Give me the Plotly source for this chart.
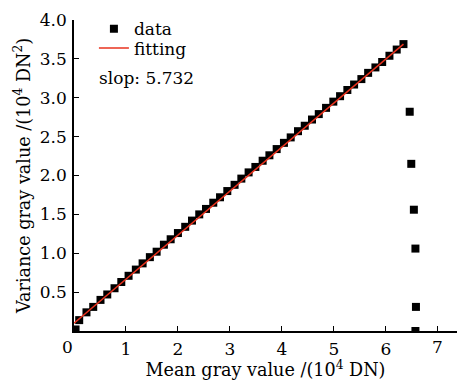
import plotly.graph_objects as go

# Data points (mean gray value, variance) in units of 10^4 DN
mean_vals = [0.03, 0.10, 0.24, 0.37, 0.51, 0.64, 0.78, 0.91, 1.05, 1.19, 1.32, 1.46, 1.59, 1.73,
             1.86, 2.00, 2.14, 2.27, 2.41, 2.54, 2.68, 2.81, 2.95, 3.09, 3.22, 3.36, 3.49,
             3.63, 3.76, 3.90, 4.04, 4.17, 4.31, 4.44, 4.58, 4.71, 4.85, 4.99, 5.12, 5.26,
             5.39, 5.53, 5.66, 5.80, 5.93, 6.07, 6.21, 6.34,
             6.46, 6.49, 6.54, 6.57, 6.58, 6.57]
var_vals = [0.02, 0.14, 0.24, 0.31, 0.40, 0.47, 0.55, 0.63, 0.71, 0.79, 0.87, 0.95, 1.02, 1.11,
            1.18, 1.26, 1.34, 1.42, 1.50, 1.57, 1.65, 1.72, 1.80, 1.88, 1.96, 2.04, 2.11,
            2.19, 2.26, 2.34, 2.42, 2.49, 2.57, 2.64, 2.72, 2.79, 2.87, 2.95, 3.02, 3.10,
            3.17, 3.24, 3.32, 3.39, 3.46, 3.54, 3.62, 3.69,
            2.82, 2.15, 1.56, 1.06, 0.31, 0.00]

# Linear fit line endpoints
fit_x = [0.0, 6.34]
fit_y = [0.10, 3.69]

x_ticks = [0, 1, 2, 3, 4, 5, 6, 7]
x_tick_text = ["", "1", "2", "3", "4", "5", "6", ""]
first_x_tick, first_x_label = 0, "0"
last_x_tick, last_x_label = 7, "7"
y_ticks = [0.5, 1.0, 1.5, 2.0, 2.5, 3.0, 3.5, 4.0]
y_tick_text = ["0.5", "1.0", "1.5", "2.0", "2.5", "3.0", "3.5", "4.0"]

FONT = "DejaVu Serif"

fig = go.Figure()
fig.add_trace(go.Scatter(
    x=mean_vals, y=var_vals, mode="markers", name="data",
    marker=dict(symbol="square", size=8, color="black"),
    cliponaxis=True, legend="legend",
))
fig.add_trace(go.Scatter(
    x=fit_x, y=fit_y, mode="lines", name="fitting",
    line=dict(color="#e8321e", width=1.5), legend="legend2",
))

leg_common = dict(xanchor="left", yanchor="top", bgcolor="rgba(0,0,0,0)",
                  font=dict(size=17, family=FONT), itemwidth=30, tracegroupgap=0)

tick_ann = dict(y=0, xref="x", yref="paper", showarrow=False,
                xanchor="center", yanchor="top", yshift=-4,
                font=dict(size=17, family=FONT))

fig.update_layout(
    template="none",
    width=458, height=380,
    margin=dict(l=74, r=1, t=20, b=49, autoexpand=False),
    paper_bgcolor="white", plot_bgcolor="white",
    font=dict(family=FONT, color="black", size=17),
    showlegend=True,
    legend=dict(x=0.052, y=1.028, **leg_common),
    legend2=dict(x=0.052, y=0.966, **leg_common),
    annotations=[
        dict(x=0.060, y=0.814, xref="paper", yref="paper",
             text="slop: 5.732", showarrow=False,
             xanchor="left", yanchor="middle",
             font=dict(size=17, family=FONT)),
        dict(x=first_x_tick, text=first_x_label, xshift=-7, **tick_ann),
        dict(x=last_x_tick, text=last_x_label, **tick_ann),
    ],
)
fig.update_xaxes(
    range=[0, 7.37], tickmode="array", tickvals=x_ticks, ticktext=x_tick_text,
    ticks="inside", ticklen=5, automargin=False,
    tickcolor="black", showline=True, linecolor="black", linewidth=1.5,
    showgrid=False, zeroline=False, mirror=False,
    ticklabelstandoff=2, ticklabeloverflow="allow",
    tickfont=dict(size=17, family=FONT),
    title=dict(text="Mean gray value /(10<sup>4</sup> DN)", font=dict(size=17.6, family=FONT), standoff=0),
)
fig.update_yaxes(
    range=[0, 4.0], tickvals=y_ticks, ticktext=y_tick_text, ticks="inside", ticklen=5,
    automargin=False,
    tickcolor="black", showline=True, linecolor="black", linewidth=1.5,
    showgrid=False, zeroline=False, mirror=False,
    ticklabelstandoff=2,
    tickfont=dict(size=17, family=FONT),
    title=dict(text="Variance gray value /(10<sup>4</sup> DN<sup>2</sup>)", font=dict(size=17.6, family=FONT), standoff=5),
)

fig.write_html("out.html")
